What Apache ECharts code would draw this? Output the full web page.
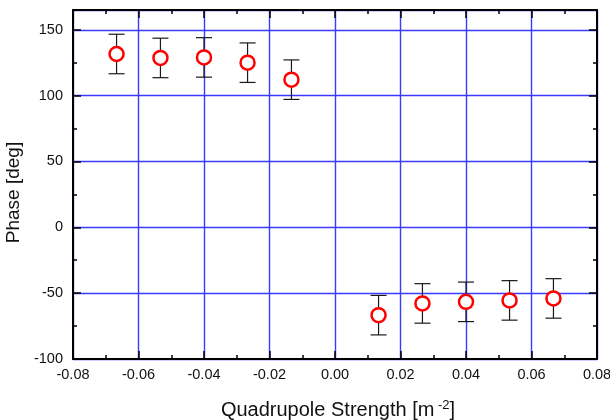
<!DOCTYPE html>
<html>
<head>
<meta charset="utf-8">
<script src="https://cdn.jsdelivr.net/npm/echarts@6/dist/echarts.min.js"></script>
<style>
  html, body { margin: 0; padding: 0; background: #fff; }
  #chart { width: 610px; height: 420px; }
</style>
</head>
<body>
<div id="chart"></div>
<script>
// Quadrupole strength [m^-2] of each measurement
var strength = [-0.0667, -0.0533, -0.04, -0.0267, -0.0133, 0.0133, 0.0267, 0.04, 0.0533, 0.0667];
// Measured phase [deg]
var phase = [131.6, 128.6, 129.0, 125.0, 112.1, -66.7, -57.8, -56.6, -55.5, -54.0];
// Symmetric uncertainty on each phase value [deg]
var phaseErr = [15, 15, 15, 15, 15, 15, 15, 15, 15, 15];
// Axis tick labels
var xTicks = ['-0.08', '-0.06', '-0.04', '-0.02', '0.00', '0.02', '0.04', '0.06', '0.08'];
var yTicks = ['-100', '-50', '0', '50', '100', '150'];

var FONT = '"Liberation Sans", Arial, Helvetica, sans-serif';

var points = strength.map(function (x, i) { return [x, phase[i]]; });
var bars = strength.map(function (x, i) { return [x, phase[i] - phaseErr[i], phase[i] + phaseErr[i]]; });

var tickStyle = { color: '#000', width: 1.5 };

function frameAxis(extra) {
  var base = {
    axisLine: { show: true, onZero: false, lineStyle: { color: '#000', width: 2 } },
    axisTick: { show: true, inside: true, length: 8, lineStyle: tickStyle },
    axisLabel: { show: false },
    splitLine: { show: false }
  };
  return Object.assign(base, extra);
}

// minor tick marks every 25 deg along a vertical frame edge
function minorYAxis(pos) {
  return frameAxis({
    type: 'value', position: pos, min: -100, max: 165, interval: 25,
    axisLine: { show: false, onZero: false },
    axisTick: { show: true, inside: true, length: 4, lineStyle: tickStyle }
  });
}

var gridLine = { show: true, lineStyle: { color: '#3a3aff', width: 1.4 } };

var chart = echarts.init(document.getElementById('chart'), null, { renderer: 'canvas' });

chart.setOption({
  animation: false,
  backgroundColor: '#fff',
  grid: { left: 73, right: 13, top: 10, bottom: 61, containLabel: false, outerBoundsMode: 'none' },
  xAxis: [
    frameAxis({
      type: 'value', position: 'bottom', min: -0.08, max: 0.08, interval: 0.02,
      minorTick: { show: true, splitNumber: 2, length: 4, lineStyle: tickStyle },
      splitLine: gridLine,
      axisLabel: {
        show: true, margin: 8, color: '#111', fontSize: 14.5, fontFamily: FONT,
        formatter: function (v) {
          var i = Math.round((v + 0.08) / 0.02);
          return xTicks[i];
        }
      },
      name: '{t|Quadrupole Strength [m}{s| -2}{t|]}',
      nameLocation: 'middle', nameGap: 40,
      nameTextStyle: {
        padding: [0, 0, 0, 6],
        rich: {
          t: { fontSize: 20, fontFamily: FONT, color: '#111' },
          s: { fontSize: 13, fontFamily: FONT, color: '#111', verticalAlign: 'top', padding: [0, 0, 9, 0] }
        }
      }
    }),
    frameAxis({
      type: 'value', position: 'top', min: -0.08, max: 0.08, interval: 0.02,
      minorTick: { show: true, splitNumber: 2, length: 4, lineStyle: tickStyle }
    })
  ],
  yAxis: [
    frameAxis({
      type: 'value', position: 'left', min: -100, max: 165, interval: 50,
      splitLine: gridLine,
      axisLabel: {
        show: true, margin: 10, color: '#111', fontSize: 14.5, fontFamily: FONT, showMaxLabel: false,
        formatter: function (v) {
          var i = Math.round((v + 100) / 50);
          return (v % 50 === 0 && yTicks[i] !== undefined) ? yTicks[i] : '';
        }
      },
      name: 'Phase [deg]', nameLocation: 'middle', nameGap: 47,
      nameTextStyle: { fontSize: 19, fontFamily: FONT, color: '#111', padding: [0, 16, 0, 0] }
    }),
    frameAxis({ type: 'value', position: 'right', min: -100, max: 165, interval: 50 }),
    minorYAxis('left'),
    minorYAxis('right')
  ],
  series: [
    {
      type: 'custom',
      xAxisIndex: 0, yAxisIndex: 0,
      data: bars,
      z: 3,
      renderItem: function (params, api) {
        var x = api.value(0);
        var lo = api.coord([x, api.value(1)]);
        var hi = api.coord([x, api.value(2)]);
        var cap = 8;
        var style = { stroke: '#1a1a1a', lineWidth: 1.2 };
        return {
          type: 'group',
          children: [
            { type: 'line', shape: { x1: lo[0], y1: lo[1], x2: hi[0], y2: hi[1] }, style: style },
            { type: 'line', shape: { x1: hi[0] - cap, y1: hi[1], x2: hi[0] + cap, y2: hi[1] }, style: style },
            { type: 'line', shape: { x1: lo[0] - cap, y1: lo[1], x2: lo[0] + cap, y2: lo[1] }, style: style }
          ]
        };
      }
    },
    {
      type: 'scatter',
      xAxisIndex: 0, yAxisIndex: 0,
      data: points,
      z: 4,
      symbol: 'circle',
      symbolSize: 14,
      itemStyle: { color: '#fff', borderColor: '#ff0000', borderWidth: 2.5, opacity: 1 }
    }
  ]
});
</script>
</body>
</html>
